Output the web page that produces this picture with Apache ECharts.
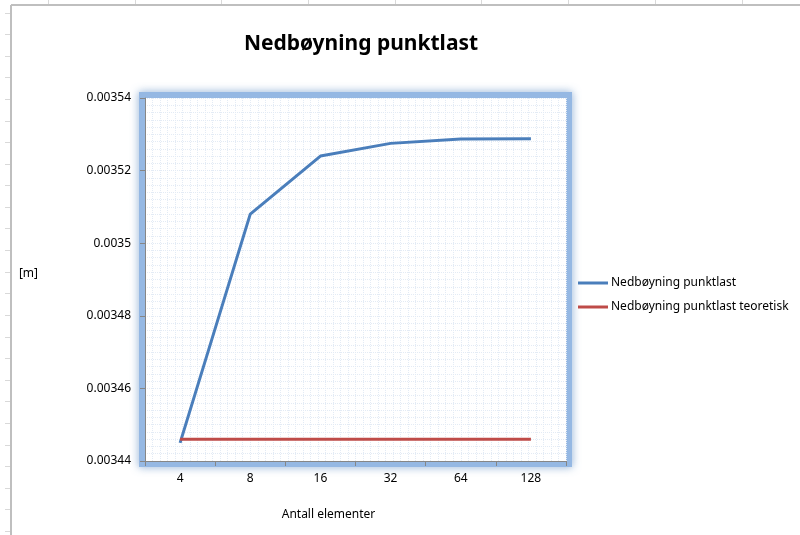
<!DOCTYPE html>
<html>
<head>
<meta charset="utf-8">
<script src="https://cdn.jsdelivr.net/npm/echarts@6/dist/echarts.min.js"></script>
<style>
  html, body { margin: 0; padding: 0; background: #ffffff; }
  #chart { width: 800px; height: 535px; }
</style>
</head>
<body>
<div id="chart"></div>
<script>
// Number of elements used in the model
const categories = ['4', '8', '16', '32', '64', '128'];
// Computed deflection under point load [m]
const deflection = [0.003445, 0.003508, 0.003524, 0.0035275, 0.0035287, 0.0035288];
// Theoretical deflection under point load [m]
const deflectionTheory = [0.003446, 0.003446, 0.003446, 0.003446, 0.003446, 0.003446];
// Value axis range and step
const yMin = 0.00344, yMax = 0.00354, yStep = 0.00002;

const seriesNames = ['Nedbøyning punktlast', 'Nedbøyning punktlast teoretisk'];
const font = 'Noto Sans';

// Plot area box (pixels)
const plot = { left: 145, right: 234, top: 98, bottom: 74 };
const W = 800, H = 535;

// Spreadsheet cell lines around the embedded chart frame
const decor = [];
for (let x = 48; x < W; x += 86.7) {
  decor.push({ type: 'line', silent: true, z: -10, shape: { x1: Math.round(x) + 0.5, y1: 0, x2: Math.round(x) + 0.5, y2: 5 }, style: { stroke: '#d9d9d9', lineWidth: 1 } });
}
for (let y = 12.5; y < H; y += 21.6) {
  decor.push({ type: 'line', silent: true, z: -10, shape: { x1: 5, y1: Math.round(y) + 0.5, x2: 10, y2: Math.round(y) + 0.5 }, style: { stroke: '#d9d9d9', lineWidth: 1 } });
}
decor.push({ type: 'line', silent: true, z: -10, shape: { x1: 11, y1: 5, x2: W, y2: 5 }, style: { stroke: '#bfbfbf', lineWidth: 2 } });
decor.push({ type: 'line', silent: true, z: -10, shape: { x1: 11, y1: 5, x2: 11, y2: H }, style: { stroke: '#bfbfbf', lineWidth: 2 } });

// Soft blue frame just outside the plot area
const band = 6;
decor.push({
  type: 'rect', silent: true, z: -5,
  shape: {
    x: plot.left - band / 2, y: plot.top - band / 2,
    width: W - plot.left - plot.right + band, height: H - plot.top - plot.bottom + band
  },
  style: {
    fill: null, stroke: '#95b8e3', lineWidth: band,
    shadowBlur: 9, shadowColor: 'rgba(79,129,189,0.7)'
  }
});

const gridLine = { color: '#e3ebf5', type: 'dotted', width: 1 };

const chart = echarts.init(document.getElementById('chart'), null, { renderer: 'canvas' });
chart.setOption({
  backgroundColor: '#ffffff',
  animation: false,
  graphic: decor,
  title: {
    text: 'Nedbøyning punktlast',
    left: 356, top: 29, textAlign: 'center',
    textStyle: { fontFamily: font, fontWeight: 'bold', fontSize: 21, color: '#000000' }
  },
  legend: {
    orient: 'vertical',
    left: 573, top: 272,
    itemWidth: 30, itemHeight: 3, itemGap: 12,
    icon: 'rect',
    data: seriesNames,
    textStyle: { fontFamily: font, fontSize: 12, color: '#000000', padding: [0, 0, 0, -2] }
  },
  grid: {
    left: plot.left, right: plot.right, top: plot.top, bottom: plot.bottom,
    show: true,
    backgroundColor: '#ffffff',
    borderWidth: 0
  },
  xAxis: [{
    type: 'category',
    data: categories,
    boundaryGap: true,
    z: 5,
    name: 'Antall elementer',
    nameLocation: 'middle',
    nameGap: 48,
    nameTextStyle: { fontFamily: font, fontSize: 12, color: '#000000', padding: [0, 54, 0, 0] },
    axisLine: { lineStyle: { color: '#868686', width: 1 } },
    axisTick: { show: true, length: 5, lineStyle: { color: '#868686' } },
    axisLabel: { fontFamily: font, fontSize: 12, color: '#000000', margin: 12 },
    splitLine: { show: false }
  }, {
    // Fine vertical mesh of the plot area
    type: 'value', position: 'top',
    min: 0, max: 56, interval: 1,
    z: 1,
    axisLine: { show: false }, axisTick: { show: false }, axisLabel: { show: false },
    splitLine: { show: true, lineStyle: gridLine }
  }],
  yAxis: {
    type: 'value',
    min: yMin, max: yMax, interval: yStep,
    z: 5,
    name: '[m]',
    nameLocation: 'middle',
    nameRotate: 0,
    nameGap: 107,
    nameTextStyle: { fontFamily: font, fontSize: 12, color: '#000000', verticalAlign: 'bottom', padding: [0, 0, 0, 0] },
    axisLine: { show: true, lineStyle: { color: '#868686', width: 1 } },
    axisTick: { show: true, length: 5, lineStyle: { color: '#868686' } },
    axisLabel: {
      fontFamily: font, fontSize: 12, color: '#000000', margin: 14,
      formatter: v => String(parseFloat(v.toFixed(5)))
    },
    splitLine: { show: true, lineStyle: gridLine },
    minorTick: { show: false, splitNumber: 10 },
    minorSplitLine: { show: true, lineStyle: gridLine }
  },
  series: [{
    name: seriesNames[0],
    type: 'line',
    data: deflection,
    symbol: 'none',
    z: 10,
    lineStyle: { color: '#4a7ebb', width: 3 },
    itemStyle: { color: '#4a7ebb' }
  }, {
    name: seriesNames[1],
    type: 'line',
    data: deflectionTheory,
    symbol: 'none',
    z: 11,
    lineStyle: { color: '#be4b48', width: 3 },
    itemStyle: { color: '#be4b48' }
  }]
});
</script>
</body>
</html>
